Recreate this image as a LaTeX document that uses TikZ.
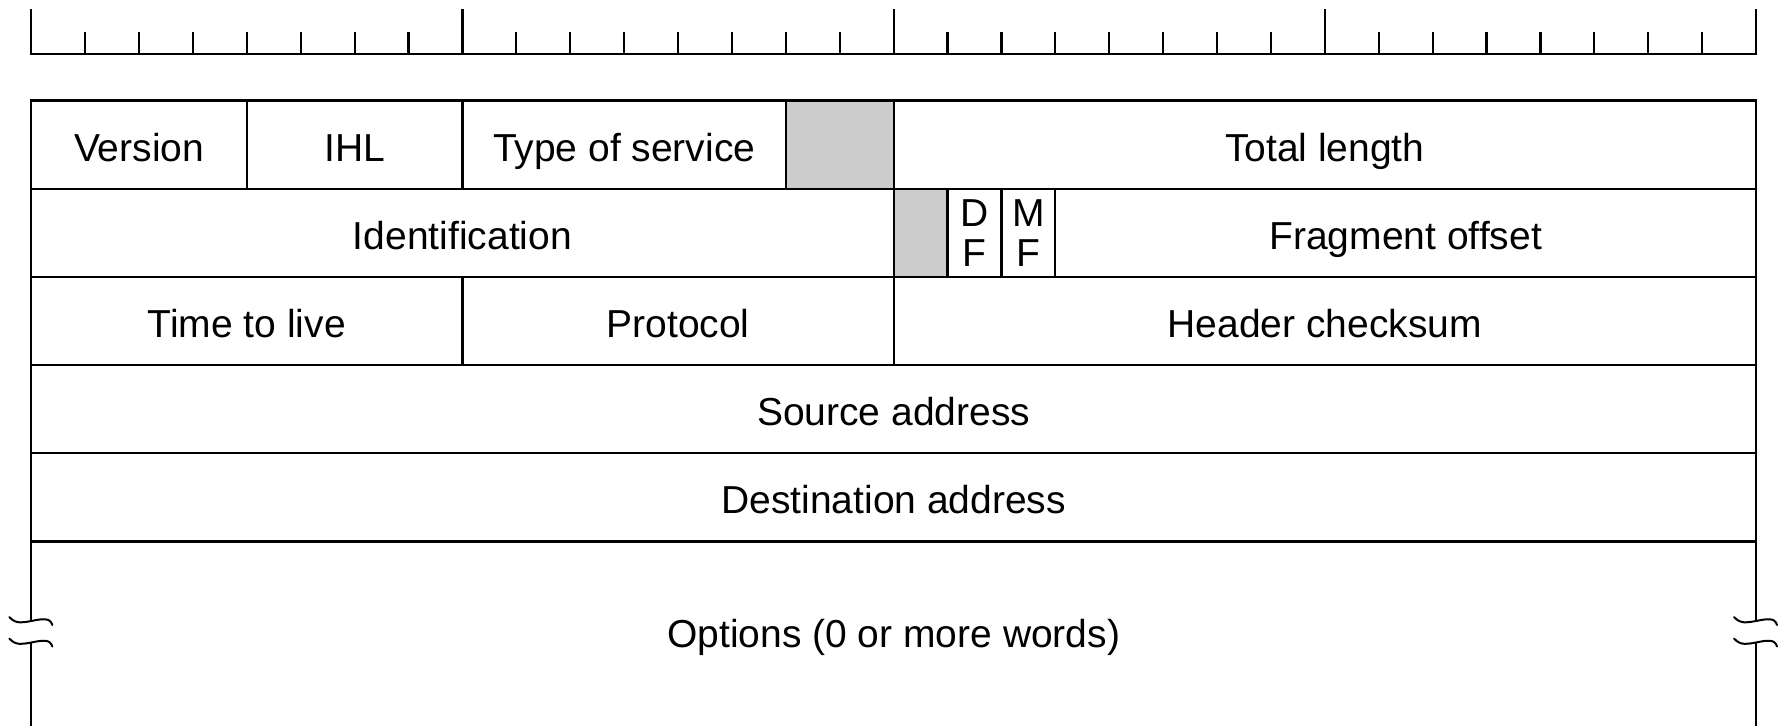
\documentclass[tikz,border=0pt]{standalone}
\usepackage{fontspec}
\setmainfont{Liberation Sans}
\definecolor{shade}{RGB}{204,204,204}
\begin{document}
\begin{tikzpicture}[x=1pt,y=-1pt,
  rule/.style={line width=2.2pt, line cap=rect},
  field/.style={draw=black, line width=2.2pt, anchor=north west, minimum height=88.2pt,
    inner sep=0pt, outer sep=0pt, text height=33pt, text depth=0pt,
    font=\fontsize{39}{46}\selectfont},
  greyfield/.style={field, fill=shade},
  flag/.style={field, align=center, text height=, text depth=, font=\fontsize{39}{40}\selectfont},
  breakmark/.style={line width=2pt, line cap=round}]
\useasboundingbox (0,0) rectangle (1783,726);
\def\b{53.897}
\def\L{31.3}
\def\R{1756}
% ruler
\draw[rule] (\L,54) -- (\R,54);
\foreach \i in {0,...,32}{
  \pgfmathsetmacro\tp{mod(\i,8)==0 ? 10 : 33}
  \draw[rule] ({\L+\i*\b},54) -- ({\L+\i*\b},\tp);
}
% row 1
\node[field, minimum width={4*\b pt}] (version) at ({\L+0*\b},100.5) {Version};
\node[field, minimum width={4*\b pt}] (ihl) at ({\L+4*\b},100.5) {IHL};
\node[field, minimum width={6*\b pt}] (tos) at ({\L+8*\b},100.5) {Type of service};
\node[greyfield, minimum width={2*\b pt}] (unused1) at ({\L+14*\b},100.5) {};
\node[field, minimum width={16*\b pt}] (totlen) at ({\L+16*\b},100.5) {Total length};
% row 2
\node[field, minimum width={16*\b pt}] (ident) at ({\L+0*\b},188.7) {Identification};
\node[greyfield, minimum width={1*\b pt}] (unused2) at ({\L+16*\b},188.7) {};
\node[flag, minimum width={1*\b pt}] (df) at ({\L+17*\b},188.7) {D\\F};
\node[flag, minimum width={1*\b pt}] (mf) at ({\L+18*\b},188.7) {M\\F};
\node[field, minimum width={13*\b pt}] (fragoff) at ({\L+19*\b},188.7) {Fragment offset};
% row 3
\node[field, minimum width={8*\b pt}] (ttl) at ({\L+0*\b},276.9) {Time to live};
\node[field, minimum width={8*\b pt}] (proto) at ({\L+8*\b},276.9) {Protocol};
\node[field, minimum width={16*\b pt}] (cksum) at ({\L+16*\b},276.9) {Header checksum};
% rows 4,5
\node[field, minimum width={32*\b pt}] (src) at ({\L+0*\b},365.1) {Source address};
\node[field, minimum width={32*\b pt}] (dst) at ({\L+0*\b},453.3) {Destination address};
% options
\node[inner sep=0pt, text height=33pt, text depth=0pt, font=\fontsize{39}{46}\selectfont]
  (opts) at ({\L+16*\b},631) {Options (0 or more words)};
\coordinate (lt) at (\L,541.5);
\coordinate (rt) at (\R,541.5);
\draw[rule, line cap=butt] (lt) -- (\L,621) (\L,642.5) -- (\L,726);
\draw[rule, line cap=butt] (rt) -- (\R,621) (\R,642.5) -- (\R,726);
\foreach \x in {\L,\R}{
  \foreach \y in {621,642.5}{
    \draw[breakmark] ({\x-22},{\y-4}) .. controls ({\x-15},{\y+4}) and ({\x-7},{\y+1}) .. (\x,\y)
      .. controls ({\x+10},{\y-2}) and ({\x+19},{\y-4}) .. ({\x+21},{\y+4});
  }
}
\end{tikzpicture}
\end{document}
